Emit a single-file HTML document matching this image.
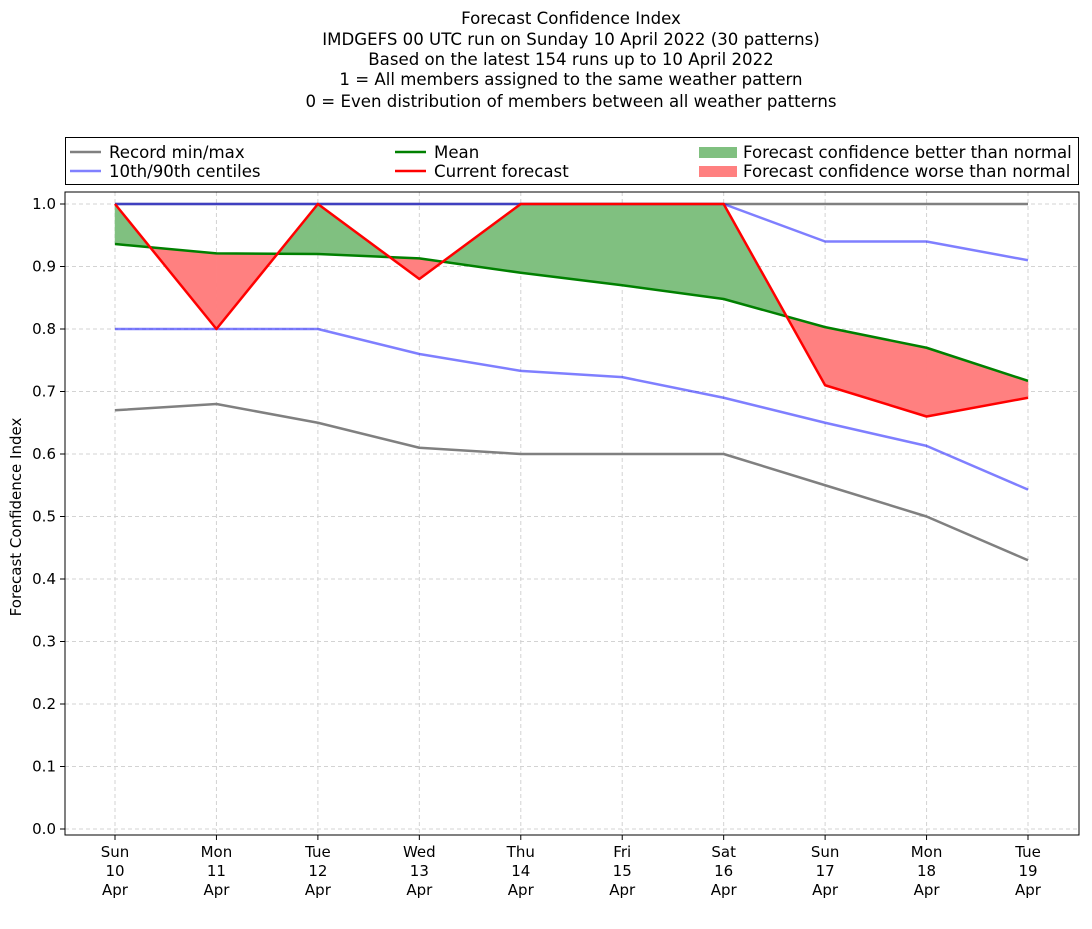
<!DOCTYPE html>
<html><head><meta charset="utf-8"><style>
body{margin:0;background:#fff;}
svg text{font-family:"DejaVu Sans","Liberation Sans",sans-serif;}
</style></head><body>
<svg id="chart" width="1092" height="924" xmlns="http://www.w3.org/2000/svg">
<g font-size="16.6" text-anchor="middle" fill="#000">
<text x="571" y="24">Forecast Confidence Index</text>
<text x="571" y="45">IMDGEFS 00 UTC run on Sunday 10 April 2022 (30 patterns)</text>
<text x="571" y="65">Based on the latest 154 runs up to 10 April 2022</text>
<text x="571" y="85">1 = All members assigned to the same weather pattern</text>
<text x="571" y="107">0 = Even distribution of members between all weather patterns</text>
</g>
<g id="grid"></g>
<g id="fills"></g>
<g id="lines"></g>
<rect x="65" y="192" width="1014" height="643" fill="none" stroke="#000" stroke-width="1"/>
<g id="ticks" font-size="15"></g>
<text transform="translate(21,517) rotate(-90)" text-anchor="middle" font-size="15">Forecast Confidence Index</text>
<g font-size="16.6">
<rect x="65.5" y="137.5" width="1013" height="47" fill="#fff" stroke="#000"/>
<g><line x1="70" y1="152" x2="101" y2="152" stroke="#808080" stroke-width="2.5"/><text x="109" y="158">Record min/max</text></g>
<g><line x1="70" y1="171" x2="101" y2="171" stroke="#8080ff" stroke-width="2.5"/><text x="109" y="177">10th/90th centiles</text></g>
<g><line x1="395" y1="152" x2="426" y2="152" stroke="#008000" stroke-width="2.5"/><text x="434" y="158">Mean</text></g>
<g><line x1="395" y1="171" x2="426" y2="171" stroke="#ff0000" stroke-width="2.5"/><text x="434" y="177">Current forecast</text></g>
<g><rect x="699" y="147" width="38" height="11" fill="#80c080"/><text x="743" y="158">Forecast confidence better than normal</text></g>
<g><rect x="699" y="166" width="38" height="11" fill="#ff8080"/><text x="743" y="177">Forecast confidence worse than normal</text></g>
</g>
</svg>
<script>
const days=["Sun","Mon","Tue","Wed","Thu","Fri","Sat","Sun","Mon","Tue"];
const dates=["10","11","12","13","14","15","16","17","18","19"];
const yTicks=[0,0.1,0.2,0.3,0.4,0.5,0.6,0.7,0.8,0.9,1.0];
const recordMax=[1,1,1,1,1,1,1,1,1,1];
const recordMin=[0.67,0.68,0.65,0.61,0.60,0.60,0.60,0.55,0.50,0.43];
const p90=[1,1,1,1,1,1,1,0.94,0.94,0.91];
const p10=[0.80,0.80,0.80,0.76,0.733,0.723,0.69,0.65,0.613,0.543];
const mean=[0.936,0.921,0.92,0.913,0.89,0.87,0.848,0.803,0.77,0.717];
const current=[1.0,0.80,1.0,0.88,1.0,1.0,1.0,0.71,0.66,0.69];
const NS="http://www.w3.org/2000/svg";
const X=i=>115+i*(1028-115)/9;
const Y=v=>829-v*625;
function mk(tag,attrs,parent){const e=document.createElementNS(NS,tag);for(const k in attrs)e.setAttribute(k,attrs[k]);document.getElementById(parent).appendChild(e);return e;}
yTicks.forEach(t=>{
 const g=mk("line",{x1:65,x2:1079,y1:Y(t),y2:Y(t),stroke:"#d3d3d3","stroke-dasharray":"4,3"},"grid");
 
 
 const tk=mk("line",{x1:60,x2:65,y1:Y(t),y2:Y(t),stroke:"#000"},"ticks");
 
 
 const tx=mk("text",{x:56,y:Y(t)+5,"text-anchor":"end"},"ticks");tx.textContent=t.toFixed(1);
 
 
});
days.forEach((d,i)=>{
 const g=mk("line",{x1:X(i),x2:X(i),y1:192,y2:835,stroke:"#d3d3d3","stroke-dasharray":"4,3"},"grid");
 
 
 const tk=mk("line",{x1:X(i),x2:X(i),y1:835,y2:840,stroke:"#000"},"ticks");
 
 
 [d,dates[i],"Apr"].forEach((s,j)=>{const t=mk("text",{x:X(i),y:857+j*19,"text-anchor":"middle"},"ticks");t.textContent=s;
 
 });
});
for(let i=0;i<days.length-1;i++){
 const a0=current[i],a1=current[i+1],m0=mean[i],m1=mean[i+1];
 const d0=a0-m0,d1=a1-m1;
 const segs=[];
 if(d0*d1<0){const f=d0/(d0-d1);segs.push([0,f]);segs.push([f,1]);}else segs.push([0,1]);
 segs.forEach(([f0,f1])=>{
  const xi=f=>X(i)+f*(X(i+1)-X(i));
  const c=f=>a0+f*(a1-a0), m=f=>m0+f*(m1-m0);
  const mid=(f0+f1)/2;const diff=c(mid)-m(mid);
  if(Math.abs(diff)<1e-9)return;
  const pts=[[xi(f0),Y(c(f0))],[xi(f1),Y(c(f1))],[xi(f1),Y(m(f1))],[xi(f0),Y(m(f0))]];
  const p=mk("polygon",{points:pts.map(q=>q.join(",")).join(" "),fill:diff>0?"#80c080":"#ff8080",stroke:diff>0?"#80c080":"#ff8080","stroke-width":0.5},"fills");
  
  
 });
}
function line(arr,color,name){
 const l=mk("polyline",{points:arr.map((v,i)=>X(i)+","+Y(v)).join(" "),fill:"none",stroke:color,"stroke-width":2.5,"stroke-linejoin":"round"},"lines");
 
 
}
line(recordMin,"#808080","record-min-line");
line(recordMax,"#808080","record-max-line");
line(p10,"rgba(0,0,255,0.5)","p10-line");
line(p90,"rgba(0,0,255,0.5)","p90-line");
line(mean,"#008000","mean-line");
line(current,"#ff0000","current-forecast-line");
</script>
</body></html>
